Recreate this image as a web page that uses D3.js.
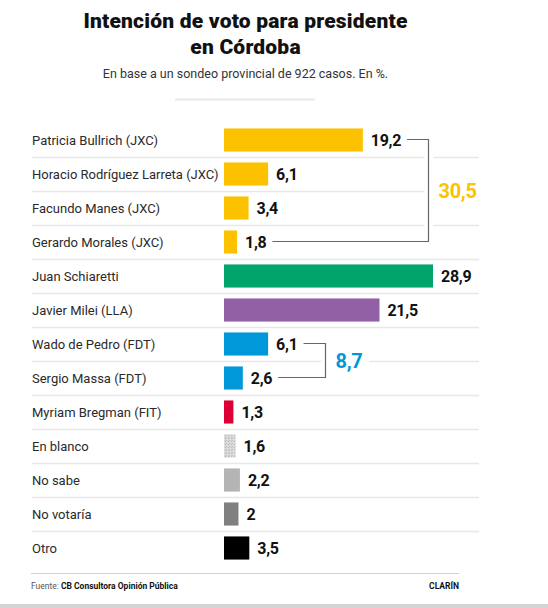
<!DOCTYPE html>
<html lang="es">
<head>
  <meta charset="UTF-8">
  <title>Intención de voto para presidente en Córdoba</title>
  <script src="https://d3js.org/d3.v7.min.js"></script>
  <style>
    body { margin: 0; background: #fff; }
    svg { display: block; }
  </style>
</head>
<body>
  <svg width="548" height="608"></svg>
  <script>
    const categories = [
      "Patricia Bullrich (JXC)", "Horacio Rodríguez Larreta (JXC)", "Facundo Manes (JXC)",
      "Gerardo Morales (JXC)", "Juan Schiaretti", "Javier Milei (LLA)", "Wado de Pedro (FDT)",
      "Sergio Massa (FDT)", "Myriam Bregman (FIT)", "En blanco", "No sabe", "No votaría", "Otro"
    ];
    const values = [19.2, 6.1, 3.4, 1.8, 28.9, 21.5, 6.1, 2.6, 1.3, 1.6, 2.2, 2, 3.5];
    const colors = [
      "#fcc200", "#fcc200", "#fcc200", "#fcc200", "#00a56c", "#9260a4", "#0098d8",
      "#0098d8", "#dc0035", "url(#blanco)", "#b4b4b4", "#808080", "#000000"
    ];
    // grouped totals (bracket from row a to row b)
    const groups = [
      { a: 0, b: 3, total: "30,5", color: "#fcc200" },
      { a: 6, b: 7, total: "8,7", color: "#0098d8" }
    ];
    const titleLines = ["Intención de voto para presidente", "en Córdoba"];

    const svg = d3.select("svg");
    const fmt = v => String(v).replace(".", ",");

    const defs = svg.append("defs");
    const pat = defs.append("pattern").attr("id", "blanco")
      .attr("width", 3).attr("height", 3).attr("patternUnits", "userSpaceOnUse");
    pat.append("rect").attr("width", 3).attr("height", 3).attr("fill", "#d6d6d6");
    pat.append("rect").attr("width", 1).attr("height", 1).attr("fill", "#bdbdbd");
    pat.append("rect").attr("x", 2).attr("y", 1).attr("width", 1).attr("height", 1).attr("fill", "#e8e8e8");
    pat.append("rect").attr("x", 1).attr("y", 2).attr("width", 1).attr("height", 1).attr("fill", "#c4c4c4");

    // title (one text, two lines)
    const cx = 245.5;
    svg.append("text").attr("text-anchor", "middle")
      .style("font", "900 21px Roboto").style("letter-spacing", "0.2px").attr("fill", "#111")
      .selectAll("tspan").data(titleLines).join("tspan")
      .attr("x", cx).attr("y", (d, i) => 28 + i * 26)
      .text(d => d);
    svg.append("text").attr("x", cx).attr("y", 78).attr("text-anchor", "middle")
      .style("font", "400 12.5px Roboto").attr("fill", "#333")
      .text("En base a un sondeo provincial de 922 casos. En %.");
    svg.append("line").attr("x1", 175).attr("x2", 315).attr("y1", 99.5).attr("y2", 99.5)
      .attr("stroke", "#e8e8e8").attr("stroke-width", 2);

    const y = d3.scaleBand().domain(categories).range([123, 565])
      .paddingInner(0.32).paddingOuter(0.16);
    const x = d3.scaleLinear().domain([0, 28.9]).range([224, 433]);
    const step = y.step();
    const mid = c => y(c) + y.bandwidth() / 2;

    // grid lines between rows
    svg.append("g").selectAll("line").data(categories.slice(0, -1)).join("line")
      .attr("x1", 32).attr("x2", 479)
      .attr("y1", c => y(c) - step * 0.16 + step + 0.5)
      .attr("y2", c => y(c) - step * 0.16 + step + 0.5)
      .attr("stroke", "#e8e8e8").attr("stroke-width", 1.5);

    // category labels
    svg.append("g").selectAll("text").data(categories).join("text")
      .attr("x", 32).attr("y", c => mid(c)).attr("dy", "0.36em")
      .style("font", "400 13px Roboto").attr("fill", "#2a2a2a")
      .text(c => c);

    // bars
    svg.append("g").selectAll("rect").data(categories).join("rect")
      .attr("x", x(0)).attr("y", c => y(c))
      .attr("width", (c, i) => x(values[i]) - x(0))
      .attr("height", y.bandwidth())
      .attr("fill", (c, i) => colors[i]);

    // value labels
    const labels = svg.append("g").selectAll("text").data(categories).join("text")
      .attr("x", (c, i) => x(values[i]) + 8).attr("y", c => mid(c)).attr("dy", "0.36em")
      .style("font", "700 16px Roboto").style("letter-spacing", "-0.3px").attr("fill", "#111")
      .text((c, i) => fmt(values[i]));
    const labelEnd = [];
    labels.each(function(c, i) { labelEnd[i] = x(values[i]) + 8 + this.getComputedTextLength(); });

    // brackets with totals
    groups.forEach(g => {
      const rows = d3.range(g.a, g.b + 1);
      const bx = Math.round(d3.max(rows, i => labelEnd[i]) + 27) + 0.5;
      const y0 = mid(categories[g.a]), y1 = mid(categories[g.b]);
      const ym = (y0 + y1) / 2;
      // white gap around the bracket and behind the total
      svg.append("rect").attr("x", bx - 4).attr("y", y0).attr("width", 9).attr("height", y1 - y0)
        .attr("fill", "#fff");
      const bg = svg.append("rect").attr("fill", "#fff");
      const t = svg.append("text").attr("x", bx + 10).attr("y", ym).attr("dy", "0.36em")
        .style("font", "700 20px Roboto").style("letter-spacing", "-0.3px").attr("fill", g.color)
        .text(g.total);
      const tw = t.node().getComputedTextLength();
      bg.attr("x", bx + 5).attr("y", ym - 9).attr("width", tw + 12).attr("height", 18);
      const path = d3.path();
      path.moveTo(labelEnd[g.a] + 6, Math.round(y0) - 0.5);
      path.lineTo(bx, Math.round(y0) - 0.5);
      path.lineTo(bx, Math.round(y1) - 0.5);
      path.lineTo(labelEnd[g.b] + 6, Math.round(y1) - 0.5);
      svg.append("path").attr("d", path.toString()).attr("fill", "none")
        .attr("stroke", "#666").attr("stroke-width", 1.2);
    });

    // footer
    svg.append("line").attr("x1", 31).attr("x2", 459).attr("y1", 573.5).attr("y2", 573.5)
      .attr("stroke", "#d0d0d0").attr("stroke-width", 1);
    const src = svg.append("text").attr("x", 31).attr("y", 589)
      .style("font", "400 8.5px Roboto").attr("fill", "#555");
    src.append("tspan").text("Fuente: ");
    src.append("tspan").attr("font-weight", 700).attr("fill", "#111").text("CB Consultora Opinión Pública");
    svg.append("text").attr("x", 459).attr("y", 589).attr("text-anchor", "end")
      .style("font", "700 8.5px Roboto").attr("fill", "#111").text("CLARÍN");
    svg.append("rect").attr("x", 0).attr("y", 604).attr("width", 548).attr("height", 4).attr("fill", "#d4d4d4");
  </script>
</body>
</html>
